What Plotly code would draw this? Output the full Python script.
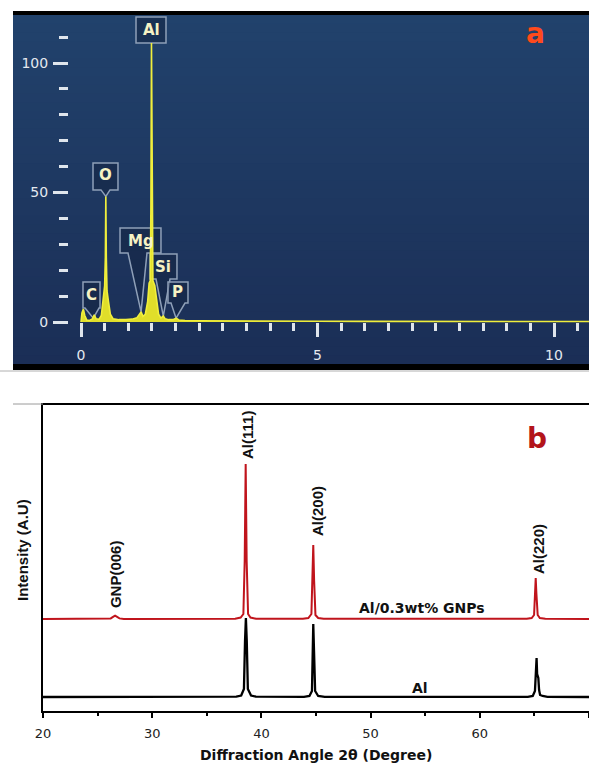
import plotly.graph_objects as go

# ---------------- data: EDS spectrum (panel a) ----------------
eds_kev = [0.0, 0.02, 0.05, 0.08, 0.12, 0.18, 0.24, 0.28, 0.32, 0.38, 0.43, 0.47,
           0.50, 0.515, 0.525, 0.535, 0.55, 0.58, 0.62, 0.68, 0.8, 0.95, 1.08, 1.18,
           1.24, 1.27, 1.31, 1.36, 1.41, 1.44, 1.465, 1.478, 1.49, 1.502, 1.52, 1.56,
           1.60, 1.64, 1.69, 1.74, 1.78, 1.85, 1.95, 2.01, 2.07, 2.2, 2.5, 3.0, 4.0,
           5.0, 6.0, 7.0, 8.0, 9.0, 10.0, 10.74]
eds_cnt = [0, 3.5, 5, 2.5, 0.8, 0.6, 1.2, 2.8, 1.2, 1.0, 2.5, 9,
           14, 25, 48.5, 25, 12, 8, 3, 1.2, 0.9, 0.9, 1.1, 1.6,
           3.5, 3.9, 2.2, 3, 8, 15, 16, 45, 107.7, 45, 16, 14,
           8, 3, 1.5, 2.3, 1.2, 0.9, 0.9, 1.5, 0.8, 0.6, 0.5, 0.4, 0.35,
           0.3, 0.25, 0.2, 0.2, 0.2, 0.2, 0.2]

eds_elements = ["Al", "O", "Mg", "Si", "P", "C"]
eds_text_x = [1.48, 0.518, 1.26, 1.744, 2.05, 0.222]
eds_text_y = [112.7, 56.8, 31.4, 21.4, 11.4, 10.4]
eds_tip_x = [1.49, 0.525, 1.27, 1.74, 2.01, 0.26]
eds_tip_y = [107.7, 48.5, 3.9, 2.3, 1.5, 1.5]
eds_major_ticks = [0, 5, 10]
eds_minor_ticks = [i * 0.5 for i in range(1, 22)]
eds_y_major = [0, 50, 100]
eds_y_minor = [10, 20, 30, 40, 60, 70, 80, 90, 110]

# ---------------- data: XRD patterns (panel b) ----------------
gnp_x = [20, 25.8, 26.2, 26.45, 26.6, 26.75, 27.0, 27.4, 37.6, 38.1, 38.35, 38.47,
         38.56, 38.65, 38.78, 39.0, 39.5, 43.8, 44.3, 44.58, 44.68, 44.75, 44.83,
         44.95, 45.2, 45.7, 64.3, 64.75, 64.97, 65.06, 65.12, 65.18, 65.3, 65.5,
         66.0, 70]
gnp_y = [92, 92, 92.6, 94.3, 95.3, 94.3, 92.6, 92, 92.3, 93.5, 97, 150,
         247, 150, 97, 93.5, 92.3, 92.2, 93, 97, 140, 166, 130,
         96, 93, 92.2, 92.2, 93, 96, 118, 133, 118, 96, 93,
         92.2, 92]

al_x = [20, 37.7, 38.15, 38.4, 38.5, 38.58, 38.66, 38.76, 39.05, 39.5, 43.9, 44.4,
        44.63, 44.69, 44.75, 44.82, 44.92, 45.2, 45.8, 64.4, 64.85, 65.05, 65.13,
        65.2, 65.25, 65.3, 65.36, 65.43, 65.52, 65.75, 66.2, 70]
al_y = [14, 14.3, 15.5, 22, 70, 93, 70, 22, 15.5, 14.3, 14.2, 15,
        20, 60, 87, 60, 20, 15, 14.2, 14.2, 15, 20, 45,
        53, 37, 34, 33, 21, 16, 15, 14.2, 14]

xrd_ticks = [20, 30, 40, 50, 60, 70]
peak_labels = ["GNP(006)", "Al(111)", "Al(200)", "Al(220)"]
peak_label_x = [26.6, 38.68, 45.09, 65.33]
peak_label_y = [137, 276, 200, 162]

W, H = 589, 763


def px(xp):
    return xp / W


def py(yp):
    return 1 - yp / H


fig = go.Figure()

# ---- panel a trace ----
fig.add_trace(go.Scatter(
    x=eds_kev, y=eds_cnt, mode="lines", fill="tozeroy",
    line=dict(color="#f0ee3c", width=1.6), fillcolor="rgba(235,232,40,0.95)",
    xaxis="x", yaxis="y", showlegend=False, hoverinfo="skip"))

# ---- panel b traces ----
fig.add_trace(go.Scatter(
    x=al_x, y=al_y, mode="lines", line=dict(color="#000000", width=2.3),
    xaxis="x2", yaxis="y2", showlegend=False))
fig.add_trace(go.Scatter(
    x=gnp_x, y=gnp_y, mode="lines", line=dict(color="#c0141c", width=2),
    xaxis="x2", yaxis="y2", showlegend=False))

shapes = []
# gradient background of panel a (each band runs to the bottom -> no seams)
top_c = (33, 66, 108)
bot_c = (27, 46, 86)
nb = 40
y0p, y1p = 15, 364
for i in range(nb):
    t = i / (nb - 1)
    c = tuple(int(round(top_c[k] + (bot_c[k] - top_c[k]) * t)) for k in range(3))
    ya = y0p + (y1p - y0p) * i / nb
    shapes.append(dict(type="rect", xref="paper", yref="paper", layer="below",
                       x0=px(13), x1=1.0, y0=py(y1p), y1=py(ya),
                       fillcolor="rgb(%d,%d,%d)" % c, line=dict(width=0)))
# black bands
shapes.append(dict(type="rect", xref="paper", yref="paper", x0=px(13), x1=1.0,
                   y0=py(15), y1=py(11), fillcolor="black", line=dict(width=0)))
shapes.append(dict(type="rect", xref="paper", yref="paper", x0=px(13), x1=1.0,
                   y0=py(370), y1=py(364), fillcolor="black", line=dict(width=0)))
shapes.append(dict(type="line", xref="paper", yref="paper", x0=0, x1=1.0,
                   y0=py(371), y1=py(371), line=dict(color="#b0b0b0", width=1)))
shapes.append(dict(type="line", xref="paper", yref="paper", x0=px(13), x1=px(43),
                   y0=py(404), y1=py(404), line=dict(color="#9a9a9a", width=1)))

# EDS label boxes (bubble shapes in data units)
box_w = {"Al": (1.163, 1.797, 117.8, 107.7, None),
         "O": (0.254, 0.782, 61.4, 51.0, (0.423, 0.613)),
         "Mg": (0.825, 1.691, 36.3, 26.6, (0.994, 1.395)),
         "Si": (1.459, 2.029, 26.3, 16.6, (1.586, 1.882)),
         "P": (1.839, 2.262, 15.4, 7.3, (1.903, 2.199)),
         "C": (0.042, 0.402, 15.4, 5.4, (0.085, 0.381))}
for el, tx, ty in zip(eds_elements, eds_tip_x, eds_tip_y):
    x0, x1, yt, yb, notch = box_w[el]
    if notch is None:
        path = f"M{x0},{yb} L{x0},{yt} L{x1},{yt} L{x1},{yb} Z"
    else:
        nl, nr = notch
        path = (f"M{x0},{yb} L{x0},{yt} L{x1},{yt} L{x1},{yb} L{nr},{yb} "
                f"L{tx},{ty} L{nl},{yb} Z")
    shapes.append(dict(type="path", xref="x", yref="y", path=path, layer="below",
                       fillcolor="rgba(20,36,66,0.55)",
                       line=dict(color="#8fa0b8", width=1.5)))

annotations = []


def ann(**kw):
    d = dict(showarrow=False, xanchor="center", yanchor="middle")
    d.update(kw)
    annotations.append(d)


for el, x, y in zip(eds_elements, eds_text_x, eds_text_y):
    ann(x=x, y=y, xref="x", yref="y", text=el,
        font=dict(family="DejaVu Sans", size=15, color="#f6f2c4", weight="bold"))
ann(x=px(535), y=py(33), xref="paper", yref="paper", text="a",
    font=dict(family="DejaVu Sans", size=28, color="#ff4a1c", weight="bold"))

for t, x, y in zip(peak_labels, peak_label_x, peak_label_y):
    ann(x=x, y=y, xref="x2", yref="y2", text=t, textangle=-90,
        font=dict(family="Liberation Sans", size=15, color="#111", weight="bold"))
ann(x=54.7, y=103, xref="x2", yref="y2", text="Al/0.3wt% GNPs",
    font=dict(family="DejaVu Sans", size=14, color="#111", weight="bold"))
ann(x=54.5, y=23, xref="x2", yref="y2", text="Al",
    font=dict(family="DejaVu Sans", size=14, color="#111", weight="bold"))
ann(x=px(537), y=py(438), xref="paper", yref="paper", text="b",
    font=dict(family="DejaVu Sans", size=28, color="#b3141a", weight="bold"))
ann(x=px(22), y=py(550), xref="paper", yref="paper", text="Intensity (A.U)",
    textangle=-90,
    font=dict(family="Liberation Sans", size=15, color="#111", weight="bold"))
ann(x=px(316), y=py(755), xref="paper", yref="paper",
    text="Diffraction Angle 2θ (Degree)",
    font=dict(family="DejaVu Sans", size=14, color="#111", weight="bold"))

tick_col = "#dfe5ec"
fig.update_layout(
    width=W, height=H, margin=dict(l=0, r=0, t=0, b=0, pad=0), autosize=False,
    paper_bgcolor="white", plot_bgcolor="rgba(0,0,0,0)",
    shapes=shapes, annotations=annotations,
    xaxis=dict(domain=[px(13), 1.0], range=[(13 - 81) / 47.3, (589 - 81) / 47.3],
               anchor="free", position=py(322), showgrid=False, zeroline=False,
               showline=False, automargin=False,
               tickmode="array", tickvals=eds_major_ticks, ticks="outside", ticklen=14,
               tickwidth=3, tickcolor=tick_col, ticklabelstandoff=6,
               minor=dict(tickmode="array", tickvals=eds_minor_ticks, ticks="outside",
                          ticklen=8, tickwidth=3, tickcolor=tick_col, showgrid=False),
               tickfont=dict(family="DejaVu Sans", size=14, color="#e4e9ef")),
    yaxis=dict(domain=[py(364), py(15)], range=[(322 - 364) / 2.59, (322 - 15) / 2.59],
               anchor="free", position=px(68), showgrid=False, zeroline=False,
               showline=False, automargin=False,
               tickmode="array", tickvals=eds_y_major, ticks="outside", ticklen=15,
               tickwidth=3, tickcolor=tick_col, ticklabelstandoff=2,
               minor=dict(tickmode="array", tickvals=eds_y_minor, ticks="outside",
                          ticklen=9, tickwidth=3, tickcolor=tick_col, showgrid=False),
               tickfont=dict(family="DejaVu Sans", size=14, color="#e4e9ef")),
    xaxis2=dict(domain=[px(43), 1.0], range=[20, 70], anchor="y2", showgrid=False,
                zeroline=False, showline=True, linecolor="black", linewidth=1.8,
                mirror=True, automargin=False,
                tickmode="array", tickvals=xrd_ticks, ticks="outside", ticklen=5,
                tickwidth=1.5, tickcolor="black", ticklabelstandoff=4,
                minor=dict(dtick=5, tick0=20, ticks="outside", ticklen=3,
                           tickwidth=1.5, tickcolor="black", showgrid=False),
                tickfont=dict(family="DejaVu Sans", size=13, color="#222")),
    yaxis2=dict(domain=[py(711), py(405)], range=[0, 306], anchor="x2",
                showgrid=False, zeroline=False, showline=True, linecolor="black",
                linewidth=1.8, mirror=True, showticklabels=False, ticks="",
                automargin=False),
)

fig.write_html("out.html",
               config={"displayModeBar": False},
               post_script="document.body.style.margin='0px';"
                           "document.body.style.overflow='hidden';")
